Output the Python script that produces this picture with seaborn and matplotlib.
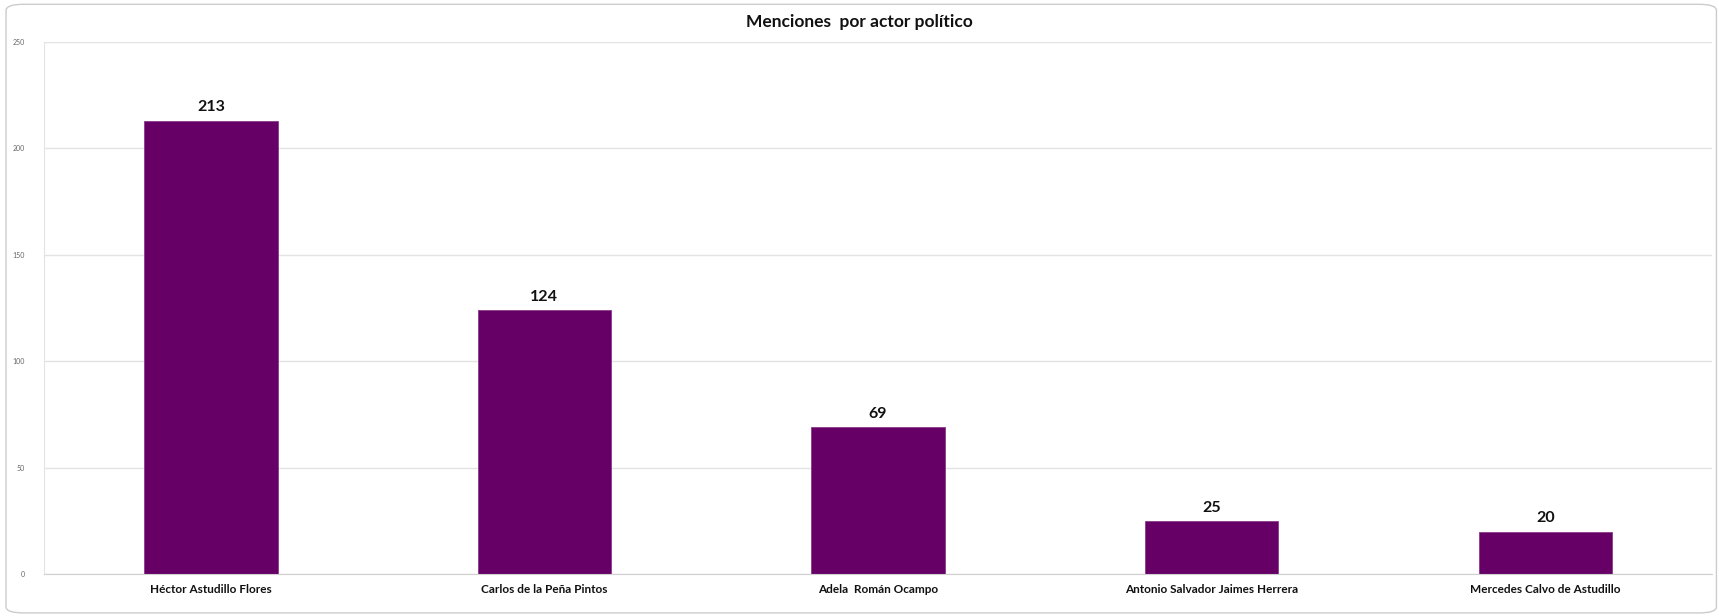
import matplotlib
matplotlib.use('Agg')
import matplotlib.pyplot as plt
from matplotlib.patches import FancyBboxPatch
import seaborn as sns
import pandas as pd

# Chart data
actores = ['Héctor Astudillo Flores', 'Carlos de la Peña Pintos', 'Adela  Román Ocampo',
           'Antonio Salvador Jaimes Herrera', 'Mercedes Calvo de Astudillo']
menciones = [213, 124, 69, 25, 20]
y_ticks = [0, 50, 100, 150, 200, 250]

df = pd.DataFrame({'actor': actores, 'menciones': menciones})

sns.set_style('white')
plt.rcParams['font.family'] = ['Lato', 'DejaVu Sans']

fig = plt.figure(figsize=(17.19, 6.16), dpi=100)
ax = fig.add_axes([0.0256, 0.068, 0.9704, 0.864])

sns.barplot(data=df, x='actor', y='menciones', color='#660066', width=0.4,
            saturation=1, edgecolor='#8a3a8a', linewidth=0.6, ax=ax)

# value labels on top of bars
for i, v in enumerate(menciones):
    ax.text(i, v + 3, str(v), ha='center', va='bottom',
            fontsize=11.5, fontweight='bold', color='#111111')

ax.set_ylim(0, 250)
ax.set_yticks(y_ticks)
ax.set_yticklabels([str(t) for t in y_ticks], fontsize=5, color='#666666')
ax.tick_params(axis='y', length=0, pad=14)
ax.tick_params(axis='x', length=0, pad=7)
for lbl in ax.get_xticklabels():
    lbl.set_fontsize(8.5)
    lbl.set_fontweight('bold')
    lbl.set_color('#111111')

ax.yaxis.grid(True, color='#e3e3e3', linewidth=1)
ax.set_axisbelow(True)
for s in ['top', 'right']:
    ax.spines[s].set_visible(False)
ax.spines['left'].set_color('#e3e3e3')
ax.spines['bottom'].set_color('#d0d0d0')
ax.set_xlabel('')
ax.set_ylabel('')

fig.text(0.5, 0.964, 'Menciones  por actor político', ha='center', va='center',
         fontsize=12.5, fontweight='bold', color='#111111')

# rounded chart border
border = FancyBboxPatch((0.0035, 0.005), 0.995, 0.988, boxstyle='round,pad=0,rounding_size=0.01',
                        transform=fig.transFigure, fill=False, edgecolor='#cccccc',
                        linewidth=1, zorder=0)
fig.patches.append(border)

fig.savefig('out.png', dpi=100)
